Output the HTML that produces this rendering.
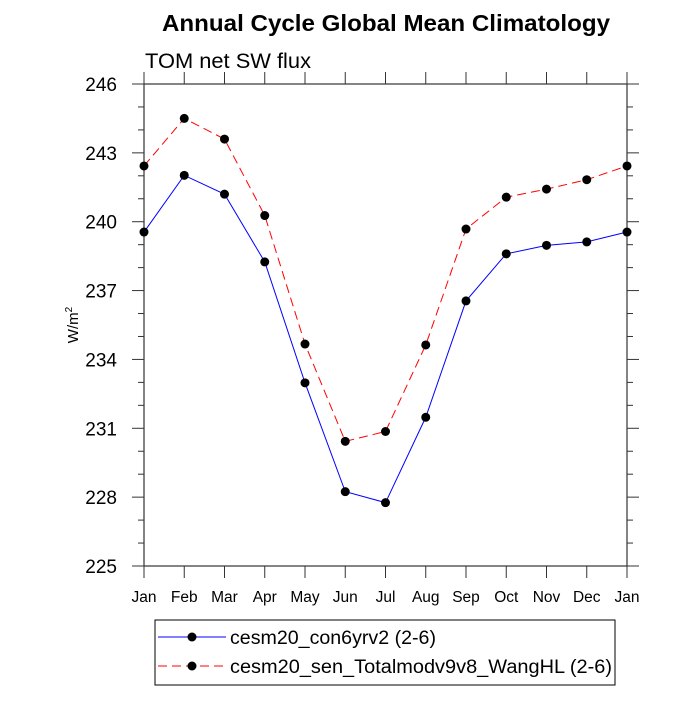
<!DOCTYPE html>
<html><head><meta charset="utf-8"><style>
body{margin:0;background:#fff;}
svg text{font-family:"Liberation Sans",sans-serif;}
</style></head><body>
<svg id="chart" width="700" height="700" xmlns="http://www.w3.org/2000/svg">
<text x="162" y="31" font-size="23" font-weight="bold" textLength="448" lengthAdjust="spacingAndGlyphs">Annual Cycle Global Mean Climatology</text>
<text x="145" y="68" font-size="21" textLength="166" lengthAdjust="spacingAndGlyphs">TOM net SW flux</text>
<text transform="translate(78,325) rotate(-90)" text-anchor="middle" font-size="15">W/m<tspan font-size="10" dy="-6">2</tspan></text>
<g id="axes"></g>
<g id="series"></g>
<g>
<rect x="155" y="620" width="460" height="65" fill="none" stroke="#000" stroke-width="1"/>
<g>
<line x1="158" y1="637" x2="226" y2="637" stroke="#0000ff" stroke-width="1"/>
<circle cx="192" cy="637" r="4.5" fill="#000"/>
<text x="230" y="644" font-size="19" textLength="206" lengthAdjust="spacingAndGlyphs">cesm20_con6yrv2 (2-6)</text></g>
<g>
<line x1="158" y1="666" x2="226" y2="666" stroke="#ff0000" stroke-width="1" stroke-dasharray="9,5"/>
<circle cx="192" cy="666" r="4.5" fill="#000"/>
<text x="230" y="673" font-size="19" textLength="382" lengthAdjust="spacingAndGlyphs">cesm20_sen_Totalmodv9v8_WangHL (2-6)</text></g>
</g>
</svg>
<script>
const months=["Jan","Feb","Mar","Apr","May","Jun","Jul","Aug","Sep","Oct","Nov","Dec","Jan"];
const yTicks=[225,228,231,234,237,240,243,246];
const blueValues=[239.55,242.02,241.2,238.25,232.98,228.24,227.76,231.48,236.55,238.6,238.97,239.12,239.55];
const redValues=[242.43,244.5,243.6,240.27,234.67,230.43,230.86,234.63,239.68,241.07,241.42,241.83,242.43];
const X0=144,X1=627,Y0=566,Y1=84,YMIN=225,YMAX=246;
const NS="http://www.w3.org/2000/svg";
function xs(i){return X0+(X1-X0)*i/(months.length-1);}
function ys(v){return Y0-(v-YMIN)/(YMAX-YMIN)*(Y0-Y1);}
function mk(tag,attrs,parent){const e=document.createElementNS(NS,tag);for(const k in attrs)e.setAttribute(k,attrs[k]);parent.appendChild(e);return e;}
const axes=document.getElementById('axes');
const frame=mk('rect',{x:X0,y:Y1,width:X1-X0,height:Y0-Y1,fill:'none',stroke:'#333','stroke-width':1.2},axes);


for(let v=YMIN;v<=YMAX;v++){
  const major=yTicks.includes(v);const L=major?12:6;const y=ys(v);
  mk('line',{x1:X0-L,y1:y,x2:X0,y2:y,stroke:'#333'},axes);
  mk('line',{x1:X1,y1:y,x2:X1+L,y2:y,stroke:'#333'},axes);
}
yTicks.forEach(v=>{
  const t=mk('text',{x:X0-27,y:ys(v)+7,'text-anchor':'end','font-size':19},axes);
  t.textContent=v;
  
  
});
months.forEach((m,i)=>{
  const x=xs(i);
  mk('line',{x1:x,y1:Y0,x2:x,y2:Y0+12,stroke:'#333'},axes);
  mk('line',{x1:x,y1:Y1-12,x2:x,y2:Y1,stroke:'#333'},axes);
  const t=mk('text',{x:x,y:Y0+36,'text-anchor':'middle','font-size':15.5},axes);
  t.textContent=m;
  
  
});
const ser=document.getElementById('series');
function draw(vals,color,dash,name){
  const pts=vals.map((v,i)=>xs(i)+','+ys(v)).join(' ');
  const pl=mk('polyline',{points:pts,fill:'none',stroke:color,'stroke-width':1,'stroke-dasharray':dash},ser);
  
  
  vals.forEach((v,i)=>{
    const c=mk('circle',{cx:xs(i),cy:ys(v),r:4.5,fill:'#000'},ser);
    
    
  });
}
draw(blueValues,'#0000ff','none','blue-series');
draw(redValues,'#ff0000','9,5','red-series');
</script>
</body></html>
